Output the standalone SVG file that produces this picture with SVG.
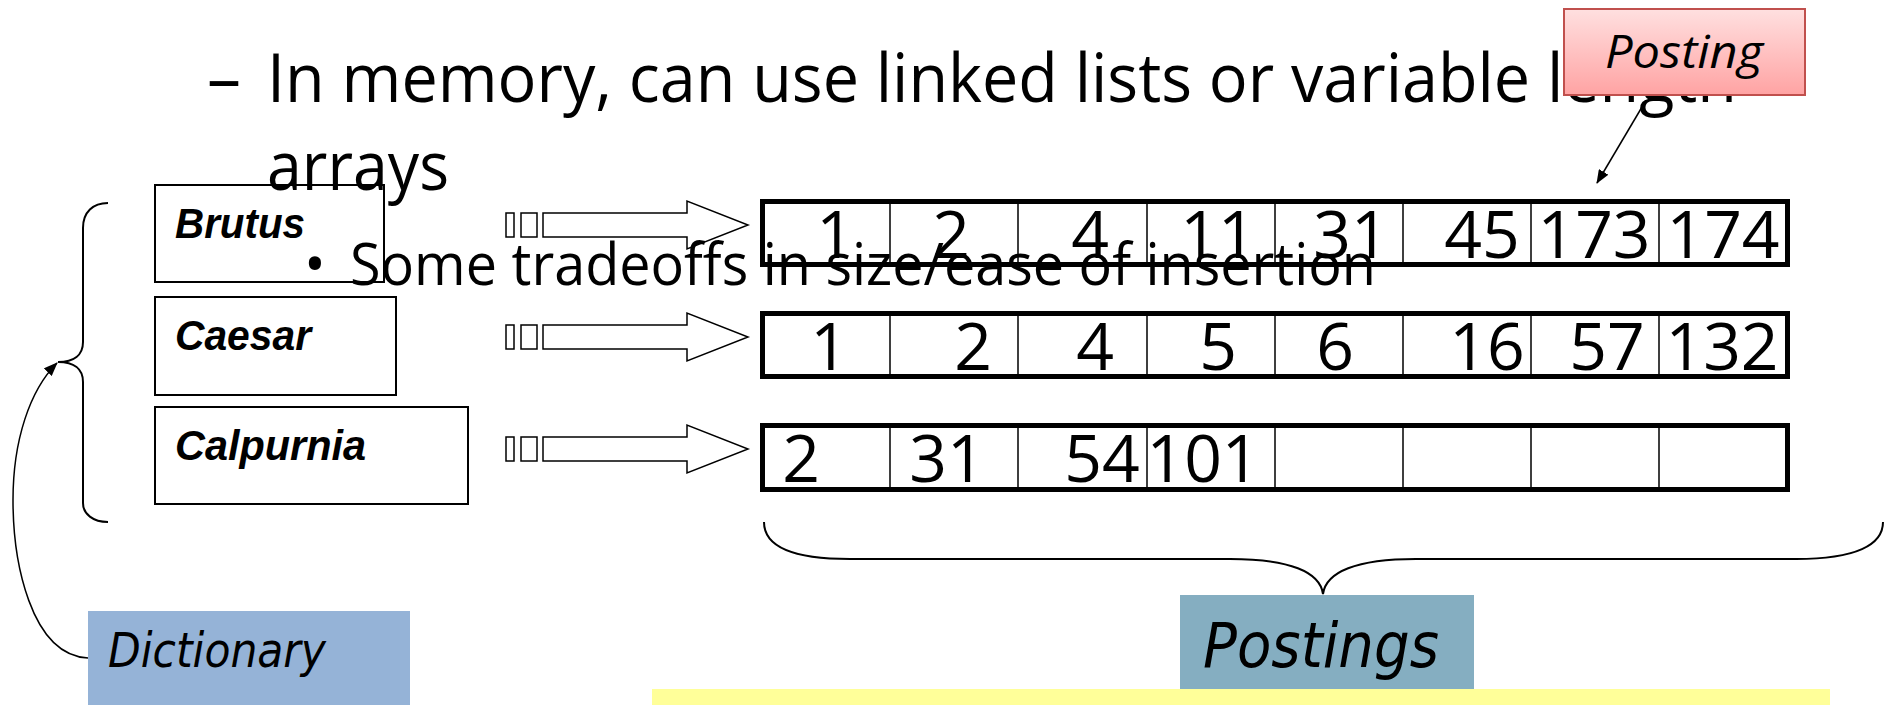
<svg xmlns="http://www.w3.org/2000/svg" width="1892" height="705" viewBox="0 0 1892 705">
<style>
.title{font-family:"Open Sans","Liberation Sans",sans-serif;fill:#000}
.num{font-family:"Open Sans","Liberation Sans",sans-serif;font-size:66px;fill:#000;text-anchor:middle}
.term{font-family:"Liberation Sans",Arial,sans-serif;font-size:42px;font-weight:bold;font-style:italic;fill:#000}
.lbl{font-family:"DejaVu Sans","Liberation Sans",sans-serif;font-style:italic;fill:#000}
.box{fill:none;stroke:#000;stroke-width:2}
.row{fill:none;stroke:#000;stroke-width:5}
.div{stroke:#000;stroke-width:1.5}
.blk{fill:#fff;stroke:#000;stroke-width:1.5}
.thin{fill:none;stroke:#000;stroke-width:1.5}
.brace{fill:none;stroke:#000;stroke-width:2}
</style>
<defs>
<marker id="ah" viewBox="0 0 14 11" refX="13" refY="5.5" markerWidth="14" markerHeight="11" orient="auto" markerUnits="userSpaceOnUse">
<path d="M0,0 L14,5.5 L0,11 z" fill="#000"/>
</marker>
<linearGradient id="pink" x1="0" y1="0" x2="0" y2="1">
<stop offset="0" stop-color="#ffe0e0"/>
<stop offset="1" stop-color="#ffa3a3"/>
</linearGradient>
</defs>
<rect x="0" y="0" width="1892" height="705" fill="#fff"/>
<rect x="652" y="689" width="1178" height="16" fill="#ffff99"/>

<g id="dict-brutus">
<rect class="box" x="155" y="185" width="229" height="97"/>
<text class="term" x="175" y="238" textLength="130" lengthAdjust="spacingAndGlyphs">Brutus</text>
</g>
<g id="dict-caesar">
<rect class="box" x="155" y="297" width="241" height="98"/>
<text class="term" x="175" y="350" textLength="136" lengthAdjust="spacingAndGlyphs">Caesar</text>
</g>
<g id="dict-calpurnia">
<rect class="box" x="155" y="407" width="313" height="97"/>
<text class="term" x="175" y="460" textLength="191" lengthAdjust="spacingAndGlyphs">Calpurnia</text>
</g>

<g id="postings-brutus">
<rect class="row" x="762.5" y="201.5" width="1025" height="63"/>
<path class="div" d="M890,204V262M1018,204V262M1147,204V262M1275,204V262M1403,204V262M1531,204V262M1659,204V262"/>
<text class="num" y="258"><tspan x="835">1</tspan><tspan x="951">2</tspan><tspan x="1090">4</tspan><tspan x="1218">11</tspan><tspan x="1351">31</tspan><tspan x="1482">45</tspan><tspan x="1594">173</tspan><tspan x="1723">174</tspan></text>
</g>
<g id="postings-caesar">
<rect class="row" x="762.5" y="313.5" width="1025" height="63"/>
<path class="div" d="M890,316V374M1018,316V374M1147,316V374M1275,316V374M1403,316V374M1531,316V374M1659,316V374"/>
<text class="num" y="370"><tspan x="829">1</tspan><tspan x="973">2</tspan><tspan x="1095">4</tspan><tspan x="1218">5</tspan><tspan x="1335">6</tspan><tspan x="1487">16</tspan><tspan x="1607">57</tspan><tspan x="1722">132</tspan></text>
</g>
<g id="postings-calpurnia">
<rect class="row" x="762.5" y="425.5" width="1025" height="64"/>
<path class="div" d="M890,428V487M1018,428V487M1147,428V487M1275,428V487M1403,428V487M1531,428V487M1659,428V487"/>
<text class="num" y="482"><tspan x="801">2</tspan><tspan x="947">31</tspan><tspan x="1102">54</tspan><tspan x="1203">101</tspan></text>
</g>

<g id="connectors">
<rect class="thin" x="506" y="213" width="8" height="24"/>
<rect class="thin" x="521" y="213" width="16" height="24"/>
<polygon class="blk" points="543,213 687,213 687,201 748,225 687,249 687,237 543,237"/>
<rect class="thin" x="506" y="325" width="8" height="24"/>
<rect class="thin" x="521" y="325" width="16" height="24"/>
<polygon class="blk" points="543,325 687,325 687,313 748,337 687,361 687,349 543,349"/>
<rect class="thin" x="506" y="437" width="8" height="24"/>
<rect class="thin" x="521" y="437" width="16" height="24"/>
<polygon class="blk" points="543,437 687,437 687,425 748,449 687,473 687,461 543,461"/>
<path class="brace" d="M108,203 C93,203 83,212 83,228 L83,342 C83,355 74,362 58,362 C74,362 83,369 83,382 L83,503 C83,514 93,522 108,522"/>
<path class="brace" d="M764,522 C764,545 790,559 850,559 L1230,559 C1290,559 1320,572 1323,594 C1326,572 1356,559 1416,559 L1796,559 C1856,559 1883,545 1883,522"/>
<path class="thin" d="M88,658 C30,655 13,560 13,500 C13,440 30,390 57,363" marker-end="url(#ah)"/>
<path class="thin" d="M1642,107 L1597,183" marker-end="url(#ah)"/>
</g>

<g id="title">
<text class="title" x="207" y="102" font-size="68">–</text>
<text class="title" x="267" y="102" font-size="68" textLength="1470" lengthAdjust="spacingAndGlyphs">In memory, can use linked lists or variable length</text>
<text class="title" x="267" y="190" font-size="68" textLength="182" lengthAdjust="spacingAndGlyphs">arrays</text>
<text class="title" x="304" y="285" font-size="58">•</text>
<text class="title" x="350" y="285" font-size="58" textLength="1026" lengthAdjust="spacingAndGlyphs">Some tradeoffs in size/ease of insertion</text>
</g>

<g id="posting-label">
<rect x="1564" y="9" width="241" height="86" fill="url(#pink)" stroke="#c0504d" stroke-width="2"/>
<text x="1605" y="68" font-family="'Open Sans','Liberation Sans',sans-serif" font-style="italic" font-size="46" textLength="158" lengthAdjust="spacingAndGlyphs">Posting</text>
</g>
<g id="dictionary-label">
<rect x="88" y="611" width="322" height="94" fill="#95b3d7"/>
<text class="lbl" x="108" y="667" font-size="48" textLength="218" lengthAdjust="spacingAndGlyphs">Dictionary</text>
</g>
<g id="postings-label">
<rect x="1180" y="595" width="294" height="94" fill="#85aec1"/>
<text class="lbl" x="1203" y="667" font-size="62" textLength="236" lengthAdjust="spacingAndGlyphs">Postings</text>
</g>
</svg>
